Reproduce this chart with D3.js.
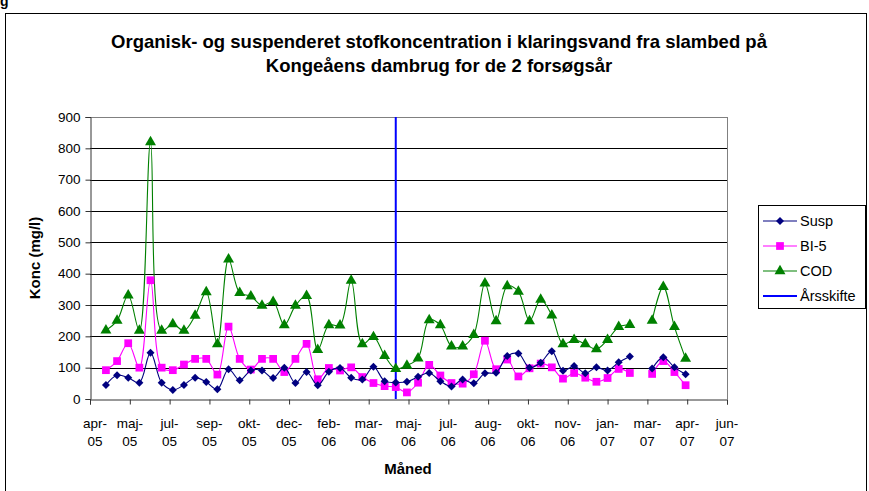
<!DOCTYPE html>
<html>
<head>
<meta charset="utf-8">
<script src="https://cdn.jsdelivr.net/npm/d3@7"></script>
<style>
  body { margin: 0; background: #fff; }
  text { font-family: Arial, "Liberation Sans", sans-serif; }
</style>
</head>
<body>
<svg id="chart" width="869" height="491"></svg>
<script>
// sample dates (every 2 weeks, one missing sample in feb-07)
const dates = [
  "2005-04-27","2005-05-11","2005-05-25","2005-06-08","2005-06-22","2005-07-06","2005-07-20",
  "2005-08-03","2005-08-17","2005-08-31","2005-09-14","2005-09-28","2005-10-12","2005-10-26",
  "2005-11-09","2005-11-23","2005-12-07","2005-12-21","2006-01-04","2006-01-18","2006-02-01",
  "2006-02-15","2006-03-01","2006-03-15","2006-03-29","2006-04-12","2006-04-26","2006-05-10",
  "2006-05-24","2006-06-07","2006-06-21","2006-07-05","2006-07-19","2006-08-02","2006-08-16",
  "2006-08-30","2006-09-13","2006-09-27","2006-10-11","2006-10-25","2006-11-08","2006-11-22",
  "2006-12-06","2006-12-20","2007-01-03","2007-01-17","2007-01-31","2007-02-14","2007-02-28",
  "2007-03-14","2007-03-28","2007-04-11","2007-04-25"
];

const susp = [45, 76, 68, 52, 148, 52, 29, 45, 68, 54, 31, 95, 60, 91, 91, 67, 100, 51, 86, 44,
  87, 99, 68, 62, 103, 57, 53, 55, 71, 83, 57, 40, 62, 50, 82, 84, 137, 145, 100, 116,
  152, 90, 105, 82, 101, 91, 117, 136, null, 97, 133, 101, 79];

const bi5 = [92, 121, 178, 100, 379, 100, 92, 110, 128, 128, 78, 231, 128, 94, 128, 128, 86, 128, 176, 63,
  99, 91, 101, 70, 51, 41, 38, 21, 52, 109, 75, 51, 49, 79, 186, 95, 126, 72, 98, 113,
  101, 65, 83, 68, 55, 67, 96, 83, null, 80, 121, 86, 44];

const cod = [219, 250, 331, 218, 820, 218, 239, 218, 266, 341, 175, 446, 339, 328, 298, 310, 236, 298, 329, 157,
  236, 235, 378, 175, 198, 138, 96, 107, 130, 252, 236, 168, 168, 205, 369, 249, 360, 343, 249, 317,
  267, 175, 189, 175, 159, 189, 230, 237, null, 250, 358, 230, 129];

const yearChange = "2006-04-26";

const axisStart = "2005-04-07";
const axisEnd = "2007-06-16";
const tickStepDays = 50;
const tickLabels = ["apr-05","maj-05","jul-05","sep-05","okt-05","dec-05","feb-06","mar-06","maj-06",
  "jul-06","aug-06","okt-06","nov-06","jan-07","mar-07","apr-07","jun-07"];
const yTicks = [0, 100, 200, 300, 400, 500, 600, 700, 800, 900];

const title1 = "Organisk- og suspenderet stofkoncentration i klaringsvand fra slambed på";
const title2 = "Kongeåens dambrug for de 2 forsøgsår";

const parse = d3.timeParse("%Y-%m-%d");
const svg = d3.select("#chart");

const plotLeft = 90, plotRight = 727, plotTop = 117, plotBottom = 399;

const x = d3.scaleTime()
  .domain([parse(axisStart), parse(axisEnd)])
  .range([plotLeft, plotRight]);
const y = d3.scaleLinear().domain([0, 900]).range([plotBottom, plotTop]);

// chart area border
svg.append("rect")
  .attr("x", 5.5).attr("y", 13.5)
  .attr("width", 861).attr("height", 500)
  .attr("fill", "none").attr("stroke", "#000").attr("stroke-width", 1);

// cut-off caption above the chart
svg.append("text").attr("x", 0).attr("y", 6)
  .style("font-size", "14px").style("font-weight", "bold").text("g");

// title
svg.append("text").attr("x", 439).attr("y", 48).attr("text-anchor", "middle")
  .style("font-size", "18.5px").style("font-weight", "bold").text(title1);
svg.append("text").attr("x", 439).attr("y", 72).attr("text-anchor", "middle")
  .style("font-size", "18.5px").style("font-weight", "bold").text(title2);

// gridlines
svg.append("g").selectAll("line").data(yTicks.filter(d => d > 0)).enter()
  .append("line")
  .attr("x1", plotLeft).attr("x2", plotRight)
  .attr("y1", d => Math.round(y(d)) + 0.5).attr("y2", d => Math.round(y(d)) + 0.5)
  .attr("stroke", d => d === 900 ? "#808080" : "#000");

// plot border right
svg.append("line").attr("x1", plotRight + 0.5).attr("x2", plotRight + 0.5)
  .attr("y1", plotTop).attr("y2", plotBottom).attr("stroke", "#808080");

// y axis
const yAxis = svg.append("g")
  .attr("transform", `translate(${plotLeft + 0.5},0)`)
  .call(d3.axisLeft(y).tickValues(yTicks).tickSize(5).tickPadding(5));
yAxis.select(".domain").attr("stroke", "#333");
yAxis.selectAll(".tick line").attr("stroke", "#333");
yAxis.selectAll("text").style("font-size", "13.5px").attr("fill", "#000");

// x axis
const tickDates = tickLabels.map((l, i) => d3.timeDay.offset(parse(axisStart), i * tickStepDays));
const xAxis = svg.append("g")
  .attr("transform", `translate(0,${plotBottom + 0.5})`)
  .call(d3.axisBottom(x).tickValues(tickDates).tickSize(5).tickFormat(""));
xAxis.select(".domain").attr("stroke", "#333");
xAxis.selectAll(".tick line").attr("stroke", "#333");

const lbl = svg.append("g").selectAll("text").data(tickDates).enter()
  .append("text")
  .attr("text-anchor", "middle")
  .style("font-size", "13.5px");
lbl.append("tspan")
  .attr("x", (d, i) => x(d) + (i === 0 ? 5 : 0)).attr("y", 428)
  .text((d, i) => tickLabels[i].split("-")[0] + "-");
lbl.append("tspan")
  .attr("x", (d, i) => x(d) + (i === 0 ? 5 : 0)).attr("y", 446)
  .text((d, i) => tickLabels[i].split("-")[1]);

// axis titles
svg.append("text").attr("x", 408).attr("y", 474).attr("text-anchor", "middle")
  .style("font-size", "15px").style("font-weight", "bold").text("Måned");
svg.append("text")
  .attr("transform", "translate(40,258) rotate(-90)")
  .attr("text-anchor", "middle")
  .style("font-size", "15px").style("font-weight", "bold").text("Konc (mg/l)");

// year change line
svg.append("line")
  .attr("x1", x(parse(yearChange))).attr("x2", x(parse(yearChange)))
  .attr("y1", y(900)).attr("y2", y(0))
  .attr("stroke", "#0000ff").attr("stroke-width", 2);

const series = [
  { name: "Susp", values: susp, color: "#000080", symbol: d3.symbolSquare, size: 32, rotate: 45 },
  { name: "BI-5", values: bi5, color: "#ff00ff", symbol: d3.symbolSquare, size: 60, rotate: 0 },
  { name: "COD", values: cod, color: "#008000", symbol: d3.symbolTriangle, size: 52, rotate: 0 }
];

const line = d3.line()
  .defined(d => d.v !== null)
  .x(d => x(d.date))
  .y(d => y(d.v))
  .curve(d3.curveCatmullRom.alpha(0.5));

// draw from back to front: COD, BI-5, Susp
series.slice().reverse().forEach(s => {
  const pts = dates.map((d, i) => ({ date: parse(d), v: s.values[i] }));
  svg.append("path").datum(pts)
    .attr("d", line)
    .attr("fill", "none").attr("stroke", s.color).attr("stroke-width", 1.1);
  svg.append("g").selectAll("path").data(pts.filter(p => p.v !== null)).enter()
    .append("path")
    .attr("d", d3.symbol(s.symbol, s.size))
    .attr("transform", d => `translate(${x(d.date)},${y(d.v)}) rotate(${s.rotate})`)
    .attr("fill", s.color);
});

// legend
const legend = svg.append("g");
legend.append("rect").attr("x", 758.5).attr("y", 205.5).attr("width", 107).attr("height", 103)
  .attr("fill", "#fff").attr("stroke", "#000");
const legendItems = series.concat([{ name: "Årsskifte", color: "#0000ff", symbol: null }]);
legendItems.forEach((s, i) => {
  const ly = 221 + i * 25;
  legend.append("line").attr("x1", 763).attr("x2", 797).attr("y1", ly).attr("y2", ly)
    .attr("stroke", s.color).attr("stroke-width", s.symbol ? 1.1 : 2);
  if (s.symbol) {
    legend.append("path").attr("d", d3.symbol(s.symbol, s.size))
      .attr("transform", `translate(780,${ly}) rotate(${s.rotate})`)
      .attr("fill", s.color);
  }
  legend.append("text").attr("x", 800).attr("y", ly + 5)
    .style("font-size", "14.5px").text(s.name);
});
</script>
</body>
</html>
